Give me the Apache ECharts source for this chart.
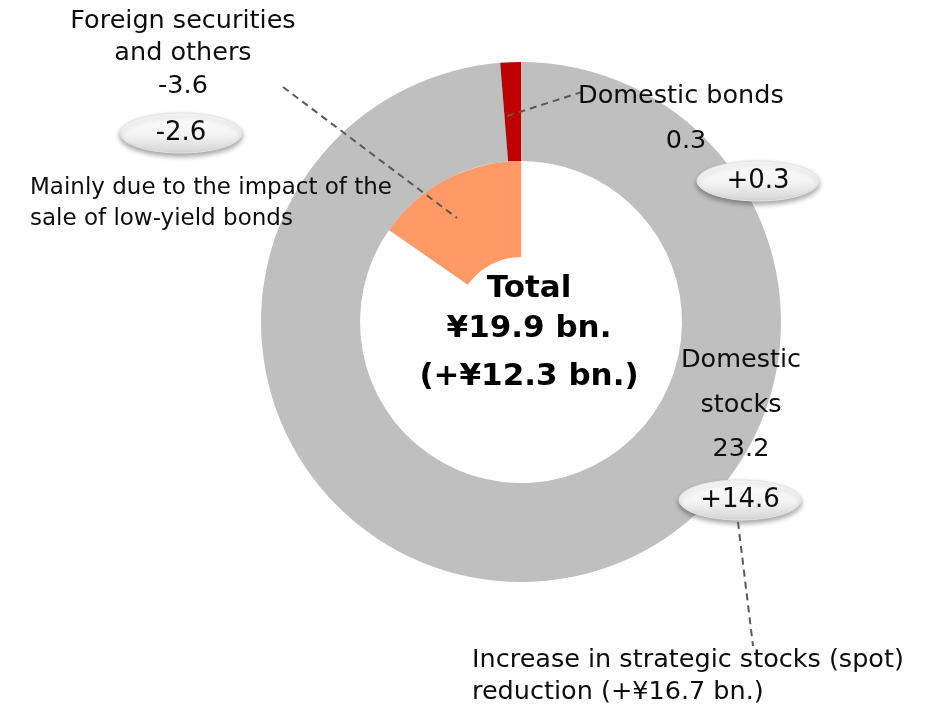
<!DOCTYPE html>
<html>
<head>
<meta charset="utf-8">
<style>
  html, body { margin: 0; padding: 0; background: #ffffff; }
  #chart { width: 925px; height: 710px; }
</style>
<script src="https://cdn.jsdelivr.net/npm/echarts@6/dist/echarts.min.js"></script>
</head>
<body>
<div id="chart"></div>
<script>
// Breakdown of the total (¥ bn.) and year-on-year change
const categories = ['Domestic stocks', 'Domestic bonds', 'Foreign securities and others'];
const amounts = [23.2, 0.3, -3.6];
const changes = [14.6, 0.3, -2.6];
const totalText = ['Total', '¥19.9 bn.', '(+¥12.3 bn.)'];
const notes = {
  foreign: ['Mainly due to the impact of the', 'sale of low-yield bonds'],
  stocks: ['Increase in strategic stocks (spot)', 'reduction (+¥16.7 bn.)']
};

const colors = { stocks: '#bfbfbf', bonds: '#c00000', foreign: '#ff9966' };
const FONT = '"DejaVu Sans", Verdana, sans-serif';
const CX = 521, CY = 322;

// Positive holdings form the outer ring; the negative item is drawn inward,
// its angle measured on the same scale as the ring.
const positiveSum = amounts.filter(v => v > 0).reduce((a, b) => a + b, 0);
const negative = Math.abs(amounts[2]);

const fmtSigned = v => (v > 0 ? '+' : '') + v.toFixed(1);

function txt(x, y, text, size, opts) {
  return {
    type: 'text', x: x, y: y, z: 20,
    style: Object.assign({
      text: text, fill: '#0d0d0d', font: size + 'px ' + FONT,
      textAlign: 'center', textVerticalAlign: 'middle'
    }, opts || {})
  };
}

function bubble(x, y, text) {
  return [{
    type: 'ellipse', z: 15,
    shape: { cx: x, cy: y, rx: 61, ry: 20 },
    style: {
      fill: new echarts.graphic.LinearGradient(0, 0, 0, 1, [
        { offset: 0, color: '#ffffff' },
        { offset: 0.55, color: '#f3f3f3' },
        { offset: 1, color: '#d4d4d4' }
      ]),
      stroke: '#e4e4e4', lineWidth: 1,
      shadowBlur: 5, shadowOffsetY: 3, shadowColor: 'rgba(0,0,0,0.35)'
    }
  }, txt(x, y, text, 26)];
}

function dashed(x1, y1, x2, y2) {
  return {
    type: 'line', z: 18,
    shape: { x1: x1, y1: y1, x2: x2, y2: y2 },
    style: { stroke: '#595959', lineWidth: 2, lineDash: [7, 5] }
  };
}

const chart = echarts.init(document.getElementById('chart'), null, { renderer: 'canvas' });

const graphics = [].concat(
  // Foreign securities and others
  txt(183, 21, 'Foreign securities', 25.5),
  txt(183, 53, 'and others', 25.5),
  txt(183, 86, amounts[2].toFixed(1), 25.5),
  bubble(181, 133, fmtSigned(changes[2])),
  txt(30, 188, notes.foreign[0], 23, { textAlign: 'left' }),
  txt(30, 219, notes.foreign[1], 23, { textAlign: 'left' }),
  dashed(283, 87, 457, 218),
  // Domestic bonds
  txt(578, 96, 'Domestic bonds', 25.5, { textAlign: 'left' }),
  txt(686, 141, amounts[1].toFixed(1), 25.5),
  bubble(758, 181, fmtSigned(changes[1])),
  dashed(507, 116, 585, 91),
  // Domestic stocks
  txt(741, 360, 'Domestic', 25.5),
  txt(741, 405, 'stocks', 25.5),
  txt(741, 449, amounts[0].toFixed(1), 25.5),
  bubble(740, 500, fmtSigned(changes[0])),
  dashed(738, 522, 753, 646),
  txt(472, 660, notes.stocks[0], 25.5, { textAlign: 'left' }),
  txt(472, 692, notes.stocks[1], 25.5, { textAlign: 'left' }),
  // Total in the centre
  txt(529, 289, totalText[0], 31, { font: 'bold 31px ' + FONT, fill: '#000000' }),
  txt(529, 329, totalText[1], 31, { font: 'bold 31px ' + FONT, fill: '#000000' }),
  txt(529, 377, totalText[2], 31, { font: 'bold 31px ' + FONT, fill: '#000000' })
);

chart.setOption({
  animation: false,
  backgroundColor: '#ffffff',
  series: [
    {
      type: 'pie',
      center: [CX, CY],
      radius: [161, 260],
      startAngle: 90,
      clockwise: true,
      silent: true,
      label: { show: false },
      labelLine: { show: false },
      emphasis: { disabled: true },
      data: [
        { name: categories[0], value: amounts[0], itemStyle: { color: colors.stocks } },
        { name: categories[1], value: amounts[1], itemStyle: { color: colors.bonds } }
      ]
    },
    {
      type: 'pie',
      center: [CX, CY],
      radius: [65, 161],
      startAngle: 90,
      clockwise: false,
      silent: true,
      label: { show: false },
      labelLine: { show: false },
      emphasis: { disabled: true },
      data: [
        { name: categories[2], value: negative, itemStyle: { color: colors.foreign } },
        { name: 'rest', value: positiveSum - negative, itemStyle: { color: 'rgba(0,0,0,0)' } }
      ]
    }
  ],
  graphic: graphics
});
</script>
</body>
</html>
